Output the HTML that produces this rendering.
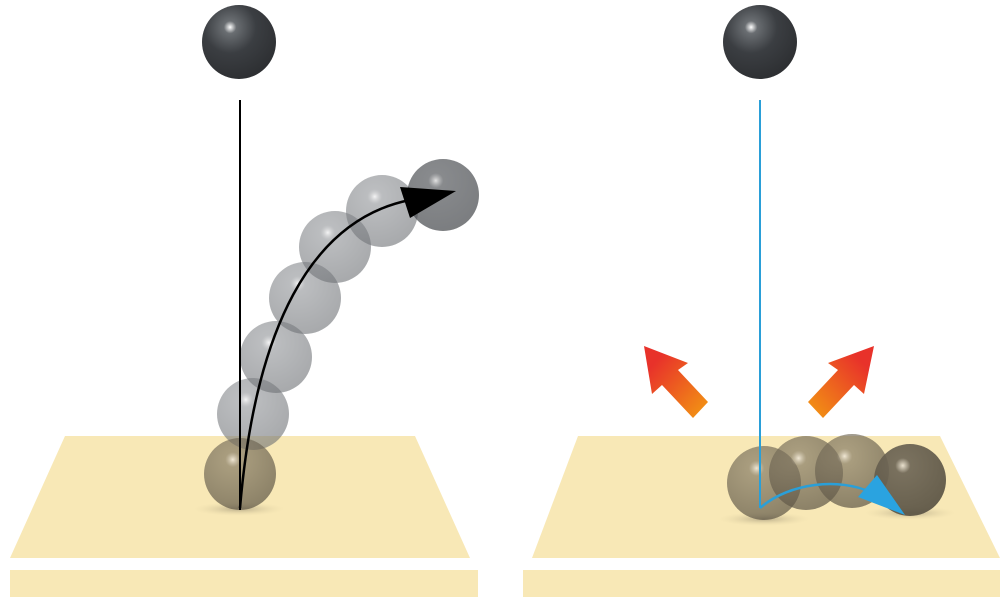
<!DOCTYPE html>
<html><head><style>body{margin:0;background:#fff}</style></head><body>
<svg width="1000" height="604" viewBox="0 0 1000 604" xmlns="http://www.w3.org/2000/svg">
<defs>
<radialGradient id="dk" cx="0.38" cy="0.3" r="0.7">
<stop offset="0" stop-color="#fff"/><stop offset="0.12" stop-color="#6a6e72"/><stop offset="0.5" stop-color="#3b3e42"/><stop offset="1" stop-color="#2e3033"/></radialGradient>
<radialGradient id="gr" cx="0.4" cy="0.3" r="0.7">
<stop offset="0" stop-color="#f4f4f4" stop-opacity="0.9"/><stop offset="0.15" stop-color="#8e9195" stop-opacity="0.6"/><stop offset="1" stop-color="#6e7175" stop-opacity="0.6"/></radialGradient>
<radialGradient id="gd" cx="0.4" cy="0.3" r="0.7">
<stop offset="0" stop-color="#e0e0e0" stop-opacity="0.9"/><stop offset="0.15" stop-color="#55585c" stop-opacity="0.7"/><stop offset="1" stop-color="#43464a" stop-opacity="0.7"/></radialGradient>
<radialGradient id="br" cx="0.4" cy="0.3" r="0.7">
<stop offset="0" stop-color="#f0e8d8" stop-opacity="0.9"/><stop offset="0.15" stop-color="#7e7460" stop-opacity="0.65"/><stop offset="1" stop-color="#5e5646" stop-opacity="0.7"/></radialGradient>
<radialGradient id="br2" cx="0.4" cy="0.3" r="0.7">
<stop offset="0" stop-color="#e8e0d0"/><stop offset="0.15" stop-color="#6e6656"/><stop offset="1" stop-color="#5a5344"/></radialGradient>
<radialGradient id="sh" cx="0.5" cy="0.5" r="0.5">
<stop offset="0" stop-color="#a89c7e" stop-opacity="0.8"/><stop offset="1" stop-color="#e8d9a8" stop-opacity="0"/></radialGradient>
<linearGradient id="ar1" x1="1" y1="1" x2="0" y2="0"><stop offset="0" stop-color="#f39a12"/><stop offset="0.8" stop-color="#e8322a"/></linearGradient>
<linearGradient id="ar2" x1="0" y1="1" x2="1" y2="0"><stop offset="0" stop-color="#f39a12"/><stop offset="0.8" stop-color="#e8322a"/></linearGradient>
</defs>
<polygon points="65,436 415,436 470,558 10,558" fill="#f8e8b6"/>
<rect x="10" y="570" width="468" height="27" fill="#f8e8b6"/>
<polygon points="578,436 940,436 1000,558 532,558" fill="#f8e8b6"/>
<rect x="523" y="570" width="477" height="27" fill="#f8e8b6"/>
<circle cx="239" cy="42" r="37" fill="url(#dk)"/>
<circle cx="760" cy="42" r="37" fill="url(#dk)"/>
<ellipse cx="239" cy="509" rx="46" ry="7" fill="url(#sh)"/>
<circle cx="253" cy="414" r="36" fill="url(#gr)"/>
<circle cx="276" cy="357" r="36" fill="url(#gr)"/>
<circle cx="305" cy="298" r="36" fill="url(#gr)"/>
<circle cx="335" cy="247" r="36" fill="url(#gr)"/>
<circle cx="382" cy="211" r="36" fill="url(#gr)"/>
<circle cx="443" cy="195" r="36" fill="url(#gd)"/>
<circle cx="240" cy="474" r="36" fill="url(#br)"/>
<line x1="240" y1="100" x2="240" y2="510" stroke="#000" stroke-width="2"/>
<path d="M240,508 C255,330 310,220 410,200" fill="none" stroke="#000" stroke-width="2.5"/>
<polygon points="400,187 456,191 410,218" fill="#000"/>
<ellipse cx="764" cy="519" rx="46" ry="7" fill="url(#sh)"/>
<ellipse cx="910" cy="513" rx="46" ry="7" fill="url(#sh)"/>
<circle cx="764" cy="483" r="37" fill="url(#br)"/>
<circle cx="806" cy="473" r="37" fill="url(#br)"/>
<circle cx="852" cy="471" r="37" fill="url(#br)"/>
<circle cx="910" cy="480" r="36" fill="url(#br2)" opacity="0.92"/>
<line x1="760" y1="100" x2="760" y2="508" stroke="#2a9fd8" stroke-width="2"/>
<path d="M760,508 C790,482 840,478 870,492" fill="none" stroke="#2a9fd8" stroke-width="2.5"/>
<polygon points="858,497 877,475 905,515" fill="#2aa3e0"/>
<polygon points="644,346 688,363 678,370 708,402 693,418 662,385 652,394" fill="url(#ar1)"/>
<polygon points="874,346 828,363 838,370 808,402 823,418 854,385 864,394" fill="url(#ar2)"/>
</svg>
</body></html>
